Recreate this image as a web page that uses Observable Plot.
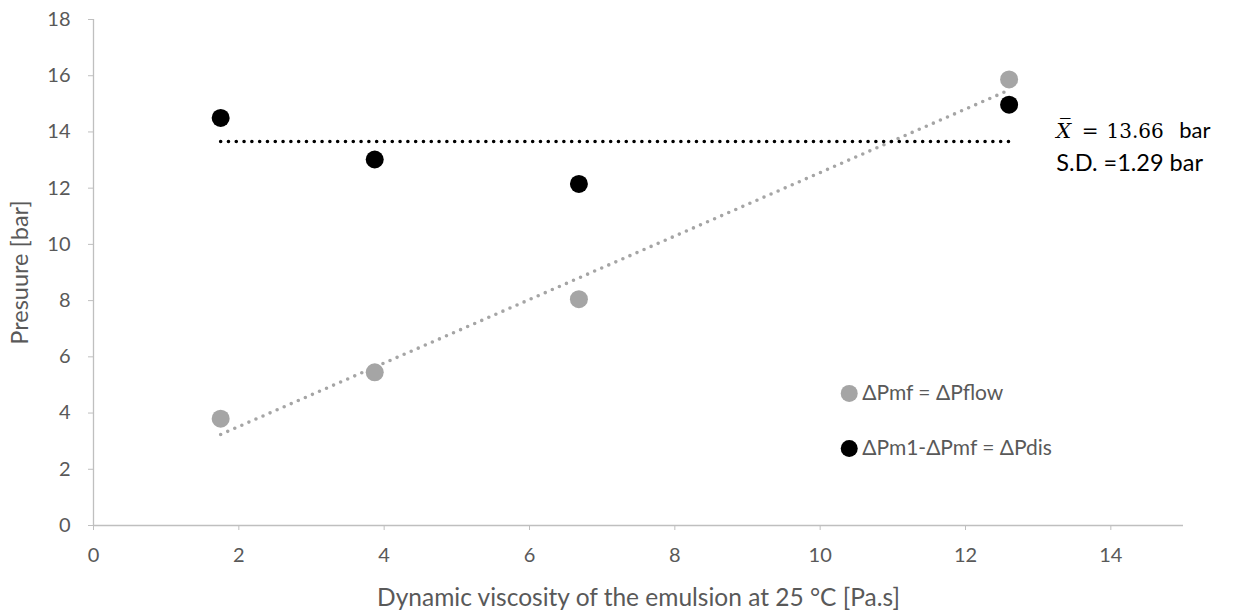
<!DOCTYPE html>
<html>
<head>
<meta charset="utf-8">
<script src="https://cdn.jsdelivr.net/npm/d3@7"></script>
<script src="https://cdn.jsdelivr.net/npm/@observablehq/plot@0.6"></script>
<style>
  html, body { margin: 0; padding: 0; background: #fff; }
  #chart { width: 1233px; height: 613px; }
  #chart g[aria-label="x-axis tick label"] text, #chart g[aria-label="y-axis tick label"] text { font-size: 20px !important; }
  #chart g[aria-label="x-axis label"] text { font-size: 24.5px !important; }
  #chart g[aria-label="y-axis label"] text { font-size: 23.5px !important; }
</style>
</head>
<body>
<div id="chart"></div>
<script>
// Data
const viscosity = [1.75, 3.87, 6.68, 12.6];
const dPflow = [3.8, 5.45, 8.05, 15.87];
const dPdis = [14.5, 13.02, 12.15, 14.97];
const xTicks = [0, 2, 4, 6, 8, 10, 12, 14];
const yTicks = [0, 2, 4, 6, 8, 10, 12, 14, 16, 18];
const seriesNames = ["ΔPmf = ΔPflow", "ΔPm1-ΔPmf = ΔPdis"];
const seriesColors = ["#a5a5a5", "#000000"];
const legendX = [10.4, 10.4];
const legendY = [4.7, 2.74];
const meanParts = ["X\u0305", "=", "13.66", "bar"];
const meanPartX = [13.25, 13.6, 13.94, 14.94];
const sdLabel = "S.D. =1.29 bar";

const flow = viscosity.map((x, i) => ({x, y: dPflow[i]}));
const dis = viscosity.map((x, i) => ({x, y: dPdis[i]}));
const meanDis = d3.mean(dPdis);
const meanLine = [{x: d3.min(viscosity), y: meanDis}, {x: d3.max(viscosity), y: meanDis}];
const legend = seriesNames.map((name, i) => ({name, color: seriesColors[i], x: legendX[i], y: legendY[i]}));
const meanText = meanParts.map((t, i) => ({t, x: meanPartX[i], y: 14.02}));

const font = "Lato, 'Open Sans', sans-serif";
const serif = "'DejaVu Serif', 'Liberation Serif', serif";
const axisColor = "#bfbfbf";
const textColor = "#595959";

const chart = Plot.plot({
  width: 1233,
  height: 613,
  marginLeft: 93,
  marginRight: 50,
  marginTop: 19,
  marginBottom: 88,
  style: {fontFamily: font, color: textColor, background: "#fff"},
  x: {domain: [0, 15]},
  y: {domain: [0, 18]},
  marks: [
    Plot.ruleX([0], {stroke: axisColor, strokeWidth: 1.3}),
    Plot.ruleY([0], {stroke: axisColor, strokeWidth: 1.3}),
    Plot.axisX({ticks: xTicks, tickSize: 5, tickPadding: 17, stroke: axisColor, fill: textColor, fontSize: 20, label: null}),
    Plot.axisX({ticks: [], label: "Dynamic viscosity of the emulsion at 25 °C [Pa.s]",
      labelAnchor: "center", labelArrow: "none", labelOffset: 80, fill: textColor}),
    Plot.axisY({ticks: yTicks, tickSize: 5, tickPadding: 18, stroke: axisColor, fill: textColor, fontSize: 20, label: null}),
    Plot.axisY({ticks: [], label: "Presuure [bar]", labelAnchor: "center", labelArrow: "none",
      labelOffset: 82, fill: textColor}),
    Plot.linearRegressionY(flow, {x: "x", y: "y", ci: 0, stroke: seriesColors[0], strokeWidth: 3.6,
      strokeDasharray: "0 7.7", strokeLinecap: "round"}),
    Plot.line(meanLine, {x: "x", y: "y", stroke: seriesColors[1], strokeWidth: 3.6,
      strokeDasharray: "0 7.8", strokeLinecap: "round"}),
    Plot.dot(flow, {x: "x", y: "y", r: 9, fill: seriesColors[0]}),
    Plot.dot(dis, {x: "x", y: "y", r: 9, fill: seriesColors[1]}),
    Plot.dot(legend, {x: "x", y: "y", r: 8.5, fill: "color"}),
    Plot.text(legend, {x: "x", y: "y", text: "name", dx: 13, textAnchor: "start", fill: textColor,
      fontSize: 21, fontFamily: font}),
    Plot.text(meanText.slice(0, 1), {x: "x", y: "y", text: "t", textAnchor: "start", fill: "#000",
      fontSize: 21, fontStyle: "italic", fontFamily: serif}),
    Plot.text(meanText.slice(1, 3), {x: "x", y: "y", text: "t", textAnchor: "start", fill: "#000",
      fontSize: 20, fontFamily: serif}),
    Plot.text(meanText.slice(3), {x: "x", y: "y", text: "t", textAnchor: "start", fill: "#000",
      fontSize: 22, fontFamily: font}),
    Plot.text([sdLabel], {x: 13.25, y: 12.88, text: d => d, textAnchor: "start", fill: "#000",
      fontSize: 23.5, fontFamily: font})
  ]
});
document.getElementById("chart").appendChild(chart);
</script>
</body>
</html>
